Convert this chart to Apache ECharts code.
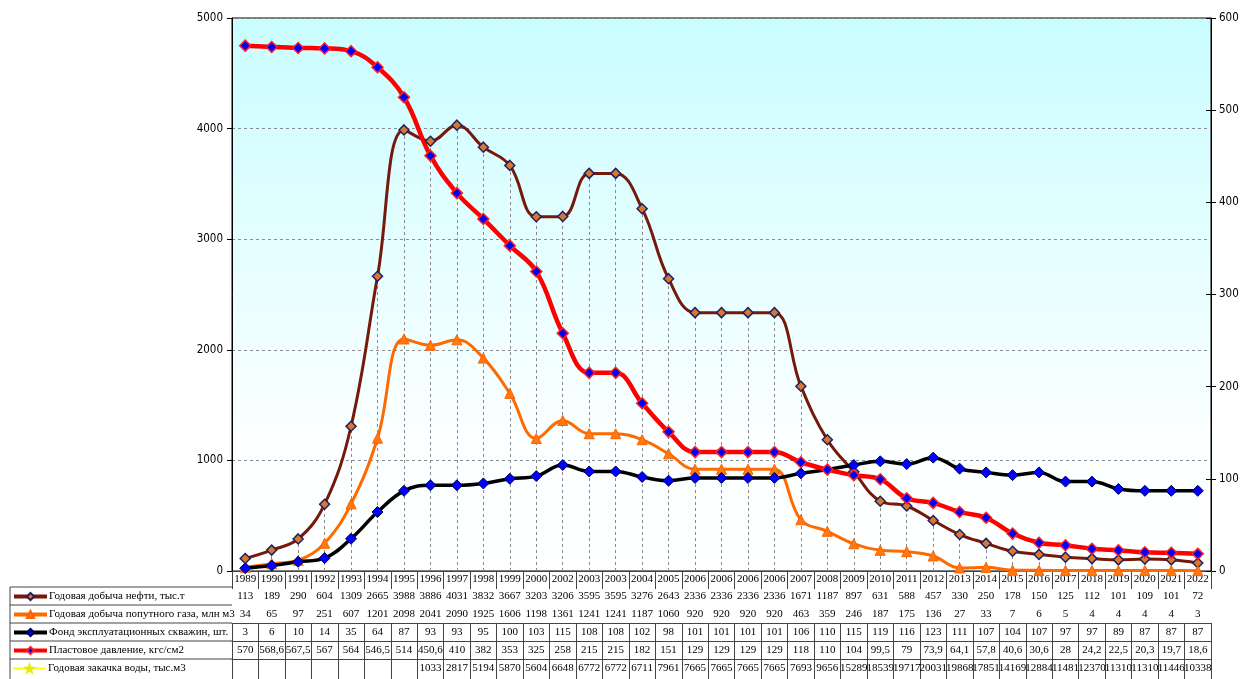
<!DOCTYPE html>
<html><head><meta charset="utf-8">
<script src="https://cdn.jsdelivr.net/npm/echarts@6/dist/echarts.min.js"></script>
<style>html,body{margin:0;padding:0;background:#fff}#c{width:1253px;height:679px}</style>
</head><body><div id="c"></div>
<script>
const years = ['1989','1990','1991','1992','1993','1994','1995','1996','1997','1998','1999','2000','2002','2003','2003','2004','2005','2006','2006','2006','2006','2007','2008','2009','2010','2011','2012','2013','2014','2015','2016','2017','2018','2019','2020','2021','2022'];
const oil = [113,189,290,604,1309,2665,3988,3886,4031,3832,3667,3203,3206,3595,3595,3276,2643,2336,2336,2336,2336,1671,1187,897,631,588,457,330,250,178,150,125,112,101,109,101,72];
const gas = [34,65,97,251,607,1201,2098,2041,2090,1925,1606,1198,1361,1241,1241,1187,1060,920,920,920,920,463,359,246,187,175,136,27,33,7,6,5,4,4,4,4,3];
const wells = [3,6,10,14,35,64,87,93,93,95,100,103,115,108,108,102,98,101,101,101,101,106,110,115,119,116,123,111,107,104,107,97,97,89,87,87,87];
const pressure = [570,568.6,567.5,567,564,546.5,514,450.6,410,382,353,325,258,215,215,182,151,129,129,129,129,118,110,104,99.5,79,73.9,64.1,57.8,40.6,30.6,28,24.2,22.5,20.3,19.7,18.6];
const water = [null,null,null,null,null,null,null,1033,2817,5194,5870,5604,6648,6772,6772,6711,7961,7665,7665,7665,7665,7693,9656,15289,18539,19717,20031,19868,17851,14169,12884,11481,12370,11310,11310,11446,10338];
const seriesNames = ['Годовая добыча нефти, тыс.т','Годовая добыча попутного газа, млн м3','Фонд эксплуатационных скважин, шт.','Пластовое давление, кгс/см2','Годовая закачка воды, тыс.м3'];
const leftTicks = {min:0, max:5000, interval:1000};
const rightTicks = {min:0, max:600, interval:100};

const serif = "'Liberation Serif','Times New Roman',serif";
const sans = "'DejaVu Sans Condensed','Liberation Sans',sans-serif";
const gridBottomY = 571;
const rowOffsets = [16, 34, 52, 70, 88];
const rowH = 18;
const rowData = [oil, gas, wells, pressure, water];
const legendLineW = [4, 4, 4, 4, 2];
const fmt = v => v == null ? '' : String(v).replace('.', ',');
const star = 'path://M0,-10 L2.4,-3.1 L9.5,-3.1 L3.8,1.2 L5.9,8.1 L0,4 L-5.9,8.1 L-3.8,1.2 L-9.5,-3.1 L-2.4,-3.1 Z';

const extraAxes = rowData.map((arr, k) => ({
  type:'category', data: years, gridIndex:0, position:'bottom', offset: rowOffsets[k],
  min:0, max: years.length-1, boundaryGap:true,
  axisLine:{show:true, lineStyle:{color:'#444', width:1}},
  axisTick:{show:true, interval:0, length: k===4 ? 30 : rowH, lineStyle:{color:'#444'}},
  axisLabel:{interval:0, margin:3.5, fontFamily:serif, fontSize:11, color:'#000', hideOverlap:false, formatter:(v,i)=>fmt(arr[i])},
  splitLine:{show:false}
}));

const legendItemH = 9;
const legends = seriesNames.map((n, k) => ({
  orient:'horizontal', left:12, top: gridBottomY + rowOffsets[k] + rowH/2 - 5,
  itemWidth:33, itemHeight:legendItemH, itemGap:0, padding:0,
  lineStyle:{width:legendLineW[k]},
  textStyle:{fontFamily:serif, fontSize:11, color:'#000', padding:[0,0,0,-3]},
  data:[{name:n}], selectedMode:false
}));

const chart = echarts.init(document.getElementById('c'));
chart.setOption({
  animation:false,
  backgroundColor:'#fff',
  grid:{left:232, right:42, top:18, bottom:108, show:true, borderColor:'#000', borderWidth:1,
    backgroundColor:new echarts.graphic.LinearGradient(0,0,0,1,[{offset:0,color:'#c9fdff'},{offset:0.75,color:'#fbffff'},{offset:1,color:'#ffffff'}])},
  legend: legends,
  xAxis:[{
    type:'category', data:years, gridIndex:0, position:'bottom', boundaryGap:true,
    axisLine:{show:true, lineStyle:{color:'#000', width:1}},
    axisTick:{show:true, interval:0, length:16, lineStyle:{color:'#444'}},
    axisLabel:{interval:0, margin:3, fontFamily:serif, fontSize:11, color:'#000', hideOverlap:false},
    splitLine:{show:false}
  }].concat(extraAxes),
  yAxis:[
    {type:'value', position:'left', ...leftTicks,
      axisLine:{show:true, lineStyle:{color:'#000'}},
      axisTick:{show:true, length:5, lineStyle:{color:'#000'}},
      axisLabel:{fontFamily:sans, fontSize:11.5, color:'#000', margin:9, formatter:v=>String(v)},
      splitLine:{show:true, lineStyle:{type:[3,3], color:'#8c8c8c', width:1}}},
    {type:'value', position:'right', ...rightTicks,
      axisLine:{show:true, lineStyle:{color:'#000'}},
      axisTick:{show:true, length:5, lineStyle:{color:'#000'}},
      axisLabel:{fontFamily:sans, fontSize:11.5, color:'#000', margin:8, formatter:v=>String(v)},
      splitLine:{show:false}},
    {type:'value', position:'right', ...rightTicks,
      axisLine:{show:false},
      axisTick:{show:true, inside:true, length:5, lineStyle:{color:'#000'}},
      axisLabel:{show:false}, splitLine:{show:false}}
  ],
  graphic:[
    ...rowOffsets.map(o => ({type:'line', silent:true, shape:{x1:10,y1:gridBottomY+o,x2:232,y2:gridBottomY+o}, style:{stroke:'#444', lineWidth:1}})),
    {type:'line', silent:true, shape:{x1:10,y1:gridBottomY+rowOffsets[0],x2:10,y2:679}, style:{stroke:'#444', lineWidth:1}}
  ],
  series:[
    {name:seriesNames[0], type:'line', data:oil, xAxisIndex:0, yAxisIndex:0, smooth:0.4,
      lineStyle:{color:'#74190b', width:3}, itemStyle:{color:'#d8782e', borderColor:'#202060', borderWidth:1.5},
      symbol:'diamond', symbolSize:10,
      markLine:{silent:true, symbol:['none','none'], z:1, label:{show:false}, animation:false,
        lineStyle:{type:[3,3], color:'#8a8a8a', width:1},
        emphasis:{disabled:true},
        data: oil.map((v,i)=>[{coord:[i,0]},{coord:[i,v]}])}
    },
    {name:seriesNames[1], type:'line', data:gas, xAxisIndex:0, yAxisIndex:0, smooth:0.4,
      lineStyle:{color:'#ff6a00', width:3}, itemStyle:{color:'#ff7a10', borderColor:'#ff6000', borderWidth:1},
      symbol:'triangle', symbolSize:10},
    {name:seriesNames[2], type:'line', data:wells, xAxisIndex:0, yAxisIndex:1, smooth:0.4,
      lineStyle:{color:'#000000', width:3.5}, itemStyle:{color:'#0000ff', borderColor:'#000040', borderWidth:1},
      symbol:'diamond', symbolSize:11},
    {name:seriesNames[3], type:'line', data:pressure, xAxisIndex:0, yAxisIndex:1, smooth:0.4,
      lineStyle:{color:'#ff0000', width:4.5}, itemStyle:{color:'#0000ff', borderColor:'#ff2020', borderWidth:1.5},
      symbol:'diamond', symbolSize:11},
    {name:seriesNames[4], type:'line', data:water, xAxisIndex:0, yAxisIndex:1, smooth:0.4, clip:true,
      lineStyle:{color:'#ffff00', width:1.5}, itemStyle:{color:'#ffff00', borderColor:'#e8e800', borderWidth:1},
      symbol:star, symbolSize:9}
  ]
});
</script>
</body></html>
